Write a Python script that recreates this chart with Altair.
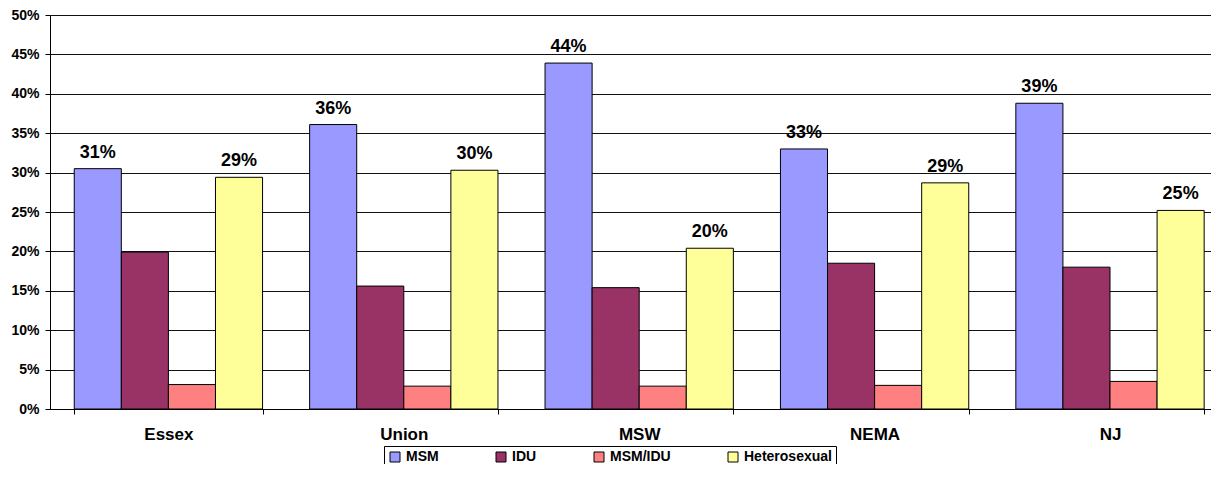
import altair as alt
import pandas as pd

regions = ["Essex", "Union", "MSW", "NEMA", "NJ"]
groups = ["MSM", "IDU", "MSM/IDU", "Heterosexual"]
msm = [0.305, 0.361, 0.439, 0.330, 0.388]
idu = [0.199, 0.156, 0.154, 0.185, 0.180]
msm_idu = [0.031, 0.029, 0.029, 0.030, 0.035]
hetero = [0.294, 0.303, 0.204, 0.287, 0.252]
labeled_groups = ["MSM", "Heterosexual"]
colors = ["#9999FF", "#993366", "#FF8080", "#FFFF99"]
y_ticks = [0, 0.05, 0.10, 0.15, 0.20, 0.25, 0.30, 0.35, 0.40, 0.45, 0.50]

rows = []
for i, r in enumerate(regions):
    for g, vals in zip(groups, [msm, idu, msm_idu, hetero]):
        rows.append({"region": r, "group": g, "value": vals[i]})
df = pd.DataFrame(rows)

FONT = "Liberation Sans"

x_enc = alt.X(
    "region:N", sort=regions, title=None,
    scale=alt.Scale(paddingInner=0.2, paddingOuter=0.066, align=0.78),
    axis=alt.Axis(labelAngle=0, labelFont=FONT, labelFontWeight="bold",
                  labelFontSize=17, labelColor="#000", labelPadding=12,
                  tickBand="extent", tickSize=5, tickColor="#000",
                  domainColor="#000", grid=False),
)
xoff_enc = alt.XOffset("group:N", sort=groups,
                       scale=alt.Scale(domain=groups, paddingInner=0, paddingOuter=0))
y_enc = alt.Y(
    "value:Q", title=None,
    scale=alt.Scale(domain=[0, 0.5], nice=False),
    axis=alt.Axis(values=y_ticks, format=".0%", labelFont=FONT,
                  labelFontWeight="bold", labelFontSize=14, labelColor="#000",
                  labelPadding=6, tickSize=5, tickColor="#000",
                  domainColor="#000", grid=True, gridColor="#111", gridWidth=1),
)

bars = alt.Chart(df).mark_bar(stroke="black", strokeWidth=1).encode(
    x=x_enc,
    xOffset=xoff_enc,
    y=y_enc,
    color=alt.Color(
        "group:N",
        scale=alt.Scale(domain=groups, range=colors),
        legend=alt.Legend(
            orient="none", legendX=334, legendY=431, direction="horizontal",
            columns=4, title=None, symbolType="square", symbolSize=100,
            symbolStrokeColor="black", symbolStrokeWidth=1,
            labelFont=FONT, labelFontWeight="bold", labelFontSize=14,
            labelColor="#000", strokeColor="black", fillColor="white",
            padding=4, columnPadding=55, labelOffset=4,
        ),
    ),
)

labels = alt.Chart(df).transform_filter(
    alt.FieldOneOfPredicate(field="group", oneOf=labeled_groups)
).mark_text(
    dy=-11, baseline="alphabetic", align="center", font=FONT,
    fontWeight="bold", fontSize=18, color="#000",
).encode(
    x=x_enc,
    xOffset=xoff_enc,
    y=y_enc,
    text=alt.Text("value:Q", format=".0%"),
)

chart = alt.layer(bars, labels).properties(
    width=1161, height=394,
    autosize=alt.AutoSizeParams(type="none"),
    padding={"left": 42, "top": 7, "right": 0, "bottom": 55},
).configure_view(stroke=None).configure(background="white")

chart.save("out.html", embed_options={"renderer": "svg", "actions": False})
